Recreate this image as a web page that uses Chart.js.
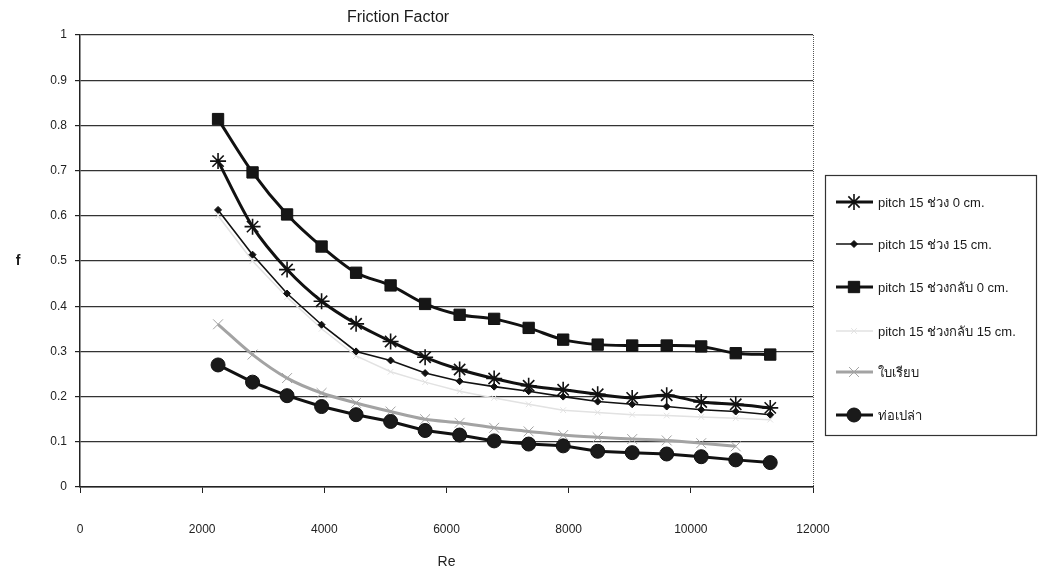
<!DOCTYPE html>
<html><head><meta charset="utf-8">
<script src="https://cdn.jsdelivr.net/npm/chart.js@4.4.1/dist/chart.umd.min.js"></script>
<style>html,body{margin:0;padding:0;background:#fff}#wrap{width:1040px;height:574px;position:relative}</style>
</head><body><div id="wrap"><canvas id="c" width="1040" height="574"></canvas></div>
<script>
// ---- data ----
const chartTitle = 'Friction Factor';
const xTitle = 'Re';
const yTitle = 'f';
const reynolds = [2260, 2825, 3390, 3955, 4520, 5085, 5650, 6215, 6780, 7345, 7910, 8475, 9040, 9605, 10170, 10735, 11300];
const seriesNames = ['pitch 15 ช่วง 0 cm.', 'pitch 15 ช่วง 15 cm.', 'pitch 15 ช่วงกลับ 0 cm.', 'pitch 15 ช่วงกลับ 15 cm.', 'ใบเรียบ', 'ท่อเปล่า'];
const fPitch0 = [0.721, 0.576, 0.481, 0.411, 0.361, 0.322, 0.287, 0.260, 0.240, 0.224, 0.215, 0.205, 0.197, 0.203, 0.188, 0.183, 0.175];
const fPitch15 = [0.613, 0.514, 0.428, 0.359, 0.300, 0.280, 0.252, 0.234, 0.222, 0.212, 0.200, 0.189, 0.183, 0.178, 0.171, 0.167, 0.160];
const fReverse0 = [0.814, 0.696, 0.603, 0.532, 0.474, 0.446, 0.405, 0.381, 0.372, 0.352, 0.326, 0.315, 0.313, 0.313, 0.311, 0.296, 0.293];
const fReverse15 = [0.600, 0.500, 0.420, 0.350, 0.290, 0.255, 0.232, 0.212, 0.197, 0.183, 0.170, 0.165, 0.160, 0.158, 0.155, 0.152, 0.149];
const fPlain = [0.360, 0.293, 0.241, 0.208, 0.186, 0.167, 0.150, 0.142, 0.131, 0.123, 0.115, 0.110, 0.106, 0.103, 0.097, 0.090];
const fEmpty = [0.270, 0.232, 0.202, 0.178, 0.160, 0.145, 0.125, 0.115, 0.102, 0.095, 0.091, 0.079, 0.076, 0.073, 0.067, 0.060, 0.054];
const xTicks = [0, 2000, 4000, 6000, 8000, 10000, 12000];

const pts = (ys) => ys.map((y, i) => ({ x: reynolds[i], y }));
const FONT = "Arial, 'Liberation Sans', 'DejaVu Sans', sans-serif";

const datasets = [
  { label: seriesNames[0], data: pts(fPitch0), borderColor: '#111', backgroundColor: '#111', borderWidth: 3,
    pointStyle: 'star', pointRadius: 8, pointBorderWidth: 1.6, tension: 0.3, order: 2 },
  { label: seriesNames[1], data: pts(fPitch15), borderColor: '#111', backgroundColor: '#111', borderWidth: 1.6,
    pointStyle: 'rectRot', pointRadius: 3.5, pointBorderWidth: 1, tension: 0, order: 3 },
  { label: seriesNames[2], data: pts(fReverse0), borderColor: '#111', backgroundColor: '#161616', borderWidth: 3,
    pointStyle: 'rect', pointRadius: 8, pointBorderWidth: 1, tension: 0.3, order: 1 },
  { label: seriesNames[3], data: pts(fReverse15), borderColor: '#e2e2e2', backgroundColor: '#e2e2e2', borderWidth: 1.5,
    pointStyle: 'crossRot', pointRadius: 4, pointBorderWidth: 1, tension: 0, order: 6 },
  { label: seriesNames[4], data: pts(fPlain), borderColor: '#a3a3a3', backgroundColor: '#a3a3a3', borderWidth: 3,
    pointStyle: 'crossRot', pointRadius: 7, pointBorderWidth: 1, tension: 0.3, order: 5 },
  { label: seriesNames[5], data: pts(fEmpty), borderColor: '#111', backgroundColor: '#1a1a1a', borderWidth: 3,
    pointStyle: 'circle', pointRadius: 7, pointBorderWidth: 1, tension: 0, order: 4 }
];

const decor = {
  id: 'decor',
  afterDraw(chart) {
    const ctx = chart.ctx, ca = chart.chartArea;
    ctx.save();
    // title
    ctx.fillStyle = '#1a1a1a';
    ctx.font = '16px ' + FONT;
    ctx.textAlign = 'center'; ctx.textBaseline = 'middle';
    ctx.fillText(chartTitle, 398, 18);
    // y title (horizontal)
    ctx.font = 'bold 14px ' + FONT;
    ctx.fillText(yTitle, 18, (ca.top + ca.bottom) / 2);
    // right border dotted
    ctx.strokeStyle = '#555'; ctx.lineWidth = 1; ctx.setLineDash([1, 1]);
    ctx.beginPath(); ctx.moveTo(ca.right + 0.5, ca.top); ctx.lineTo(ca.right + 0.5, ca.bottom); ctx.stroke();
    ctx.setLineDash([]);
    // legend
    const bx = 825, by = 175, bw = 211, bh = 260;
    ctx.strokeStyle = '#333'; ctx.lineWidth = 1.2;
    ctx.strokeRect(bx + 0.5, by + 0.5, bw, bh);
    const rows = [202, 244, 287, 331, 372, 415];
    ctx.font = '13px ' + FONT;
    ctx.textAlign = 'left'; ctx.textBaseline = 'middle';
    chart.data.datasets.forEach((ds, i) => {
      const y = rows[i];
      ctx.strokeStyle = ds.borderColor; ctx.lineWidth = ds.borderWidth;
      ctx.beginPath(); ctx.moveTo(836, y); ctx.lineTo(873, y); ctx.stroke();
      ctx.fillStyle = ds.backgroundColor; ctx.strokeStyle = ds.borderColor; ctx.lineWidth = ds.pointBorderWidth;
      Chart.helpers.drawPoint(ctx, { pointStyle: ds.pointStyle, radius: ds.pointRadius, rotation: 0, borderWidth: ds.pointBorderWidth }, 854, y);
      ctx.fillStyle = '#1a1a1a';
      ctx.fillText(ds.label, 878, y + 1);
    });
    ctx.restore();
  }
};

new Chart(document.getElementById('c'), {
  type: 'line',
  data: { datasets },
  options: {
    responsive: false, animation: false,
    layout: { padding: { top: 35, right: 227, left: 0, bottom: 0 } },
    plugins: { legend: { display: false }, title: { display: false }, tooltip: { enabled: false } },
    scales: {
      x: {
        type: 'linear', min: 0, max: 12000,
        afterBuildTicks: (s) => { s.ticks = xTicks.map(v => ({ value: v })); },
        afterFit: (s) => { s.height = 87; },
        grid: { drawOnChartArea: false, color: '#222', tickLength: 6, lineWidth: 1 },
        border: { color: '#222', width: 1.5 },
        ticks: { color: '#222', font: { size: 12, family: FONT }, padding: 29, maxRotation: 0,
          callback: (v) => String(v) },
        title: { display: true, text: xTitle, color: '#222', font: { size: 14, family: FONT }, padding: { top: 8, bottom: 3 } }
      },
      y: {
        min: 0, max: 1,
        afterFit: (s) => { s.width = 80; },
        grid: { color: '#333', lineWidth: 1.2, tickLength: 5, tickColor: '#222' },
        border: { color: '#222', width: 1.5 },
        ticks: { stepSize: 0.1, color: '#222', font: { size: 12, family: FONT }, padding: 8,
          callback: (v) => +Number(v).toFixed(1) }
      }
    }
  },
  plugins: [decor]
});
</script>
</body></html>
